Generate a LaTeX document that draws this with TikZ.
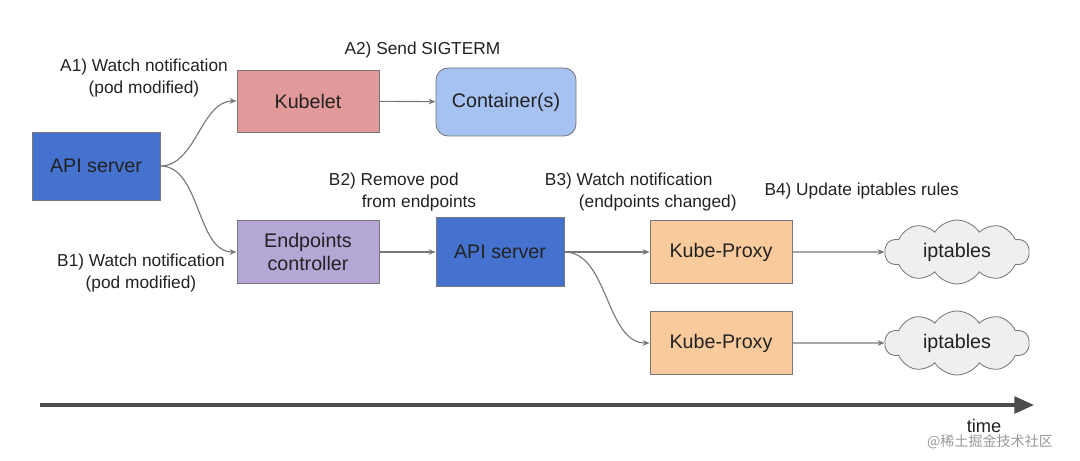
\documentclass[tikz,border=0pt]{standalone}
\usepackage{fontspec}
\setmainfont{Liberation Sans}
\newfontfamily\cjkfont{Noto Sans CJK SC}
\usepackage{tikz}
\usetikzlibrary{shapes,shapes.symbols,arrows,arrows.meta,positioning,calc}
\definecolor{apiblue}{RGB}{68,114,206}
\definecolor{kubeletred}{RGB}{226,153,153}
\definecolor{ctrblue}{RGB}{166,194,242}
\definecolor{epurple}{RGB}{180,167,214}
\definecolor{proxyorange}{RGB}{249,203,156}
\definecolor{cloudgray}{RGB}{239,239,239}
\definecolor{edgegray}{RGB}{120,120,120}
\definecolor{inkgray}{RGB}{34,34,34}

\begin{document}
\begin{tikzpicture}[
    box/.style={rectangle, draw=edgegray, line width=0.6pt, text=inkgray, align=center, font=\fontsize{14}{16.5}\selectfont},
    apibox/.style={box, fill=apiblue, minimum width=3.2cm, minimum height=1.7cm},
    kubeletbox/.style={box, fill=kubeletred, minimum width=3.55cm, minimum height=1.55cm},
    ctrbox/.style={box, fill=ctrblue, rounded corners=0.3cm, minimum width=3.5cm, minimum height=1.7cm},
    epbox/.style={box, fill=epurple, minimum width=3.55cm, minimum height=1.58cm},
    proxybox/.style={box, fill=proxyorange, minimum width=3.55cm, minimum height=1.58cm},
    iptcloud/.style={cloud, cloud puffs=10, cloud puff arc=115, aspect=2.3, draw=edgegray, fill=cloudgray, line width=0.6pt, text=inkgray, font=\fontsize{14}{16.5}\selectfont, minimum width=3.6cm, minimum height=1.6cm, inner sep=0pt},
    note/.style={text=inkgray, font=\fontsize{12.3}{15.6}\selectfont},
    link/.style={draw=edgegray, line width=0.8pt, -{Stealth[length=5pt,width=4pt]}}
]
    \useasboundingbox (0,0) rectangle (27,-11.525);

    % top branch
    \node[apibox] (api) at (2.4,-4.15) {API server};
    \node[kubeletbox] (kubelet) at (7.7,-2.525) {Kubelet};
    \node[ctrbox] (ctr) at (12.65,-2.55) {Container(s)};

    % bottom branch
    \node[epbox] (epc) at (7.7,-6.3) {Endpoints\\controller};
    \node[apibox, minimum height=1.725cm] (api2) at (12.5,-6.3) {API server};
    \node[proxybox] (proxyA) at (18.025,-6.3) {Kube-Proxy};
    \node[proxybox] (proxyB) at (18.025,-8.575) {Kube-Proxy};
    \node[iptcloud] (iptA) at (23.925,-6.3) {iptables};
    \node[iptcloud] (iptB) at (23.925,-8.575) {iptables};

    % step labels
    \node[note, align=center] (lblA1) at (3.6,-1.95) {A1) Watch notification\\(pod modified)};
    \node[note] (lblA2) at (10.56,-1.25) {A2) Send SIGTERM};
    \node[note, align=center] (lblB1) at (3.525,-6.82) {B1) Watch notification\\(pod modified)};
    \node[note, align=left, anchor=west] (lblB2) at (8.1,-4.8) {B2) Remove pod\\\hspace*{0.82cm}from endpoints};
    \node[note, align=left, anchor=west] (lblB3) at (13.5,-4.8) {B3) Watch notification\\\hspace*{0.85cm}(endpoints changed)};
    \node[note] (lblB4) at (21.54,-4.78) {B4) Update iptables rules};

    % connectors
    \draw[link] (api.east) to[out=0, in=180, looseness=0.9] (kubelet.west);
    \draw[link] (api.east) to[out=0, in=180, looseness=0.9] (epc.west);
    \draw[link] (kubelet) -- (ctr);
    \draw[link] (epc) -- (api2);
    \draw[link] (api2) -- (proxyA);
    \draw[link] (api2.east) to[out=0, in=180, looseness=0.9] (proxyB.west);
    \draw[link] (proxyA) -- (iptA);
    \draw[link] (proxyB) -- (iptB);

    % time axis
    \coordinate (t0) at (1.0,-10.125);
    \coordinate (t1) at (25.85,-10.125);
    \draw[draw=black!70, line width=2.2pt, -{Triangle[length=14pt,width=12pt]}] (t0) -- (t1);
    \node[text=inkgray, font=\fontsize{13}{15}\selectfont] (timelbl) at (24.6,-10.65) {time};
    \node[text=black!40, font=\fontsize{10}{12}\cjkfont] (mark) at (24.75,-11.05) {@稀土掘金技术社区};
\end{tikzpicture}
\end{document}
